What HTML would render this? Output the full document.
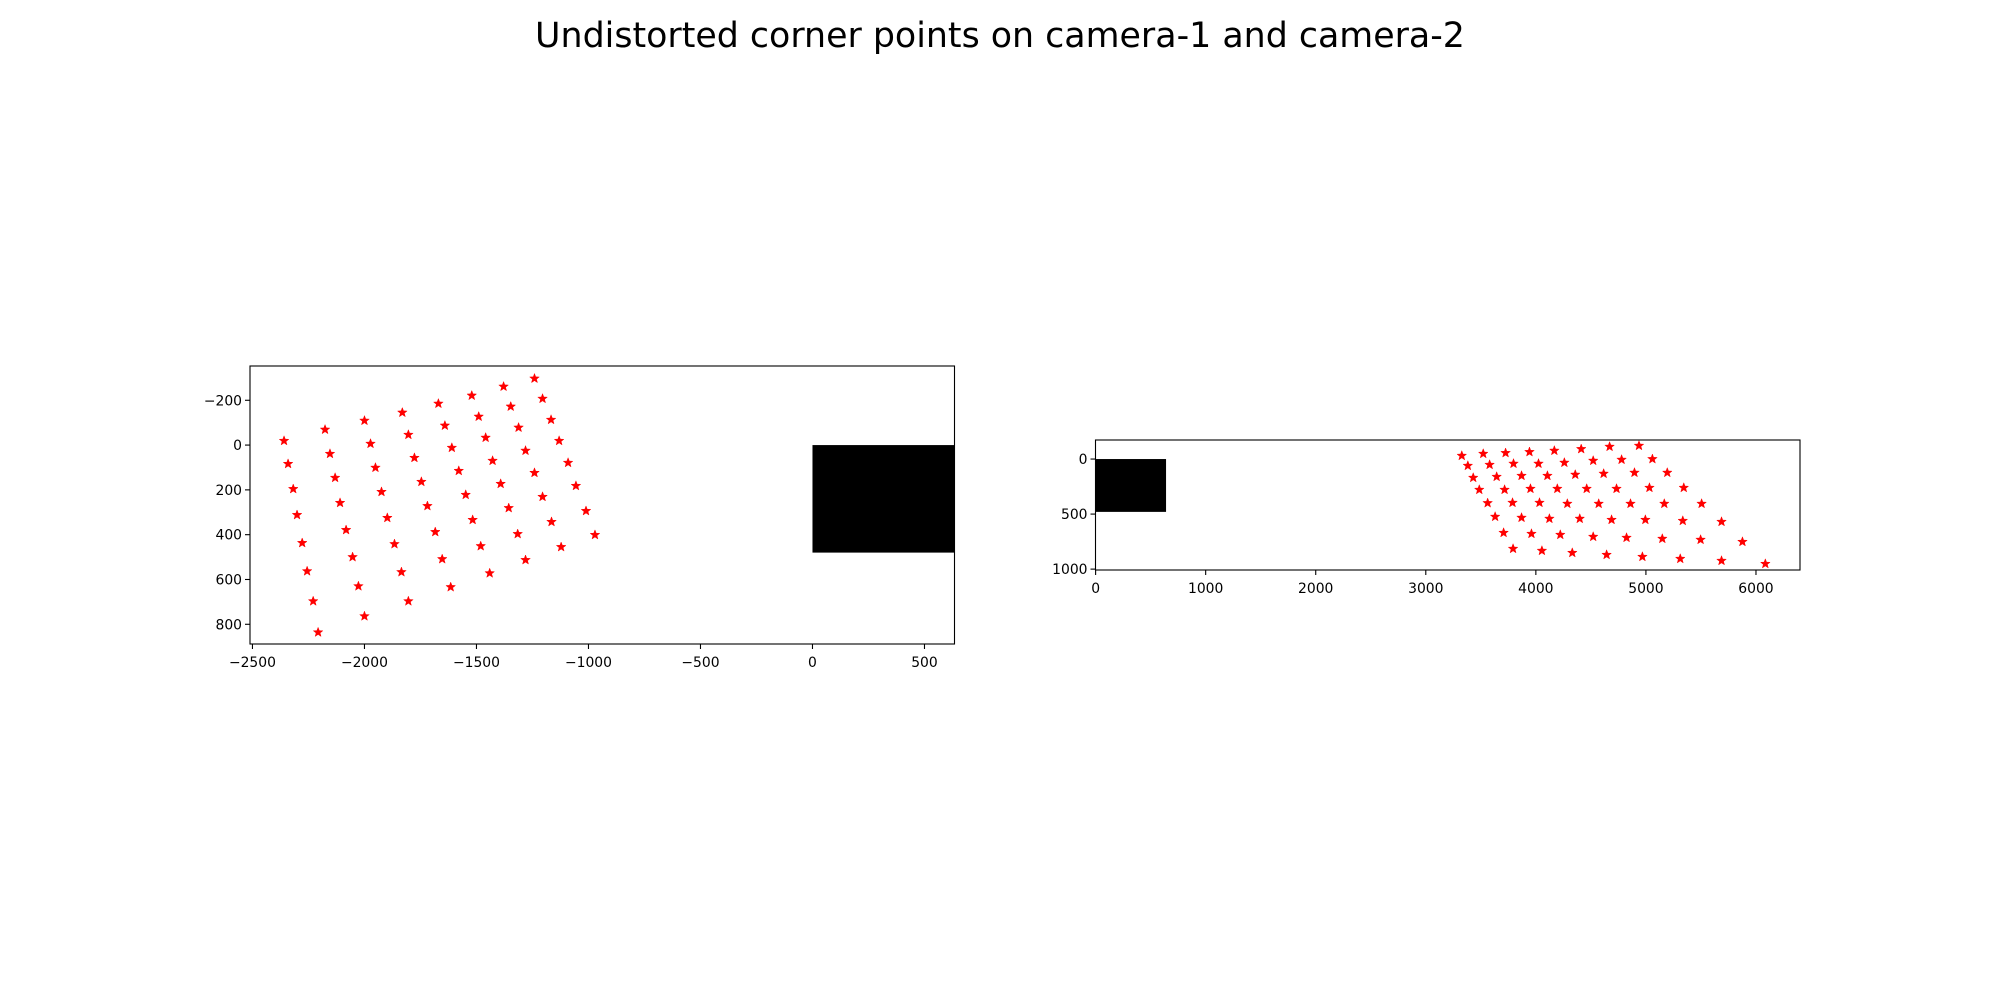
<!DOCTYPE html>
<html><head><meta charset="utf-8"><style>
html,body{margin:0;padding:0;background:#fff;}
svg{display:block;font-family:"DejaVu Sans","Liberation Sans",sans-serif;}
</style></head><body>
<svg id="fig" width="2000" height="1000" viewBox="0 0 2000 1000">
<rect width="2000" height="1000" fill="#fff"/>
<text x="1000" y="47" text-anchor="middle" font-size="34.8">Undistorted corner points on camera-1 and camera-2</text>
</svg>
<script>
// camera-1 data
const cam1X = [-2359,-2341,-2318,-2301,-2278,-2256,-2229,-2207,
 -2176,-2154,-2131,-2109,-2082,-2053,-2027,-2000,
 -2000,-1973,-1951,-1924,-1898,-1866,-1835,-1804,
 -1831,-1804,-1777,-1746,-1719,-1684,-1653,-1615,
 -1670,-1641,-1610,-1579,-1548,-1517,-1481,-1441,
 -1521,-1490,-1459,-1428,-1392,-1356,-1316,-1281,
 -1379,-1347,-1312,-1281,-1241,-1205,-1165,-1122,
 -1241,-1205,-1167,-1131,-1091,-1056,-1011,-971];
const cam1Y = [-19,84,196,312,437,563,697,836,
 -69,39,146,258,379,500,630,764,
 -109,-6,101,209,325,442,567,697,
 -145,-46,57,164,272,388,509,634,
 -185,-87,12,115,222,334,451,572,
 -221,-127,-33,70,173,281,397,513,
 -261,-172,-78,25,124,231,343,455,
 -297,-207,-113,-19,79,182,294,401];
// camera-2 data
const cam2X = [3327,3522,3725,3942,4168,4412,4670,4937,
 3382,3580,3797,4024,4259,4521,4779,5059,
 3431,3644,3870,4105,4358,4616,4896,5194,
 3486,3716,3951,4195,4462,4733,5032,5344,
 3562,3788,4033,4286,4571,4860,5167,5506,
 3630,3870,4123,4399,4688,4995,5335,5687,
 3707,3960,4222,4521,4824,5149,5497,5877,
 3793,4055,4331,4643,4968,5312,5687,6085];
const cam2Y = [-30,-48,-55,-64,-76,-91,-112,-121,
 61,52,42,42,33,15,6,0,
 170,161,152,152,142,133,124,124,
 279,279,270,270,270,270,261,261,
 400,397,397,406,406,406,406,406,
 524,533,542,542,552,552,561,570,
 670,679,688,706,715,724,733,752,
 815,833,852,870,888,906,924,952];
const ax1XTicks = [-2500,-2000,-1500,-1000,-500,0,500];
const ax1YTicks = [-200,0,200,400,600,800];
const ax2XTicks = [0,1000,2000,3000,4000,5000,6000];
const ax2YTicks = [0,500,1000];
const imageSize = [640,480];

const NS="http://www.w3.org/2000/svg";
const fig=document.getElementById('fig');
function mk(tag,attrs,parent){const e=document.createElementNS(NS,tag);for(const k in attrs)e.setAttribute(k,attrs[k]);(parent||fig).appendChild(e);return e;}
function fmt(v){return v<0?'\u2212'+Math.abs(v):String(v);}
function starPath(cx,cy,r){let d='';for(let i=0;i<10;i++){const rr=i%2?r*0.42:r;const a=-Math.PI/2+i*Math.PI/5;d+=(i?'L':'M')+(cx+rr*Math.cos(a)).toFixed(2)+' '+(cy+rr*Math.sin(a)).toFixed(2);}return d+'Z';}

function drawAxes(name,box,xlim,ylim,xs,ys,xt,yt){
  const g=mk('g',{});
  
  
  const sx=v=>box.x+(v-xlim[0])/(xlim[1]-xlim[0])*box.w;
  const sy=v=>box.y+(v-ylim[0])/(ylim[1]-ylim[0])*box.h;
  const cid=name+'-clip';
  const cp=mk('clipPath',{id:cid},g);mk('rect',{x:box.x,y:box.y,width:box.w,height:box.h},cp);
  const inner=mk('g',{'clip-path':'url(#'+cid+')'},g);
  const img=mk('rect',{x:sx(0),y:sy(0),width:sx(imageSize[0])-sx(0),height:sy(imageSize[1])-sy(0),fill:'#000'},inner);
  
  
  for(let i=0;i<xs.length;i++){
    const p=mk('path',{d:starPath(sx(xs[i]),sy(ys[i]),5),fill:'#ff0000',stroke:'#ff0000','stroke-width':0.5},inner);
    
    
  }
  const fr=mk('rect',{x:box.x,y:box.y,width:box.w,height:box.h,fill:'none',stroke:'#000','stroke-width':1.1},g);
  
  
  xt.forEach(v=>{const x=sx(v);mk('line',{x1:x,x2:x,y1:box.y+box.h,y2:box.y+box.h+5,stroke:'#000','stroke-width':1.1},g);
    const t=mk('text',{x:x,y:box.y+box.h+23,'text-anchor':'middle','font-size':13.9},g);t.textContent=fmt(v);
    
    });
  yt.forEach(v=>{const y=sy(v);mk('line',{x1:box.x-5,x2:box.x,y1:y,y2:y,stroke:'#000','stroke-width':1.1},g);
    const t=mk('text',{x:box.x-8,y:y+5,'text-anchor':'end','font-size':13.9},g);t.textContent=fmt(v);
    
    });
}
drawAxes('camera-1-axes',{x:250,y:366,w:704.5,h:278},[-2511,634],[-353,888],cam1X,cam1Y,ax1XTicks,ax1YTicks);
drawAxes('camera-2-axes',{x:1095.5,y:440,w:704.5,h:130},[-1,6400],[-173,1008],cam2X,cam2Y,ax2XTicks,ax2YTicks);
</script>
</body></html>
